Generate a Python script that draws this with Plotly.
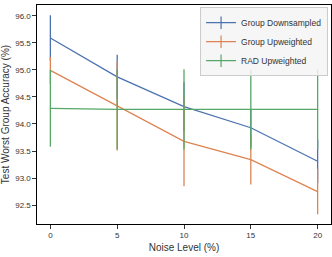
import plotly.graph_objects as go

noise = [0, 5, 10, 15, 20]
names = ["Group Downsampled", "Group Upweighted", "RAD Upweighted"]
colors = ["#4c72b0", "#dd8452", "#55a868"]
means = [
    [95.59, 94.87, 94.32, 93.93, 93.31],
    [94.99, 94.33, 93.68, 93.34, 92.75],
    [94.29, 94.27, 94.27, 94.27, 94.27],
]
errs = [
    [0.42, 0.41, 0.45, 0.35, 0.40],
    [0.25, 0.82, 0.83, 0.46, 0.42],
    [0.71, 0.74, 0.74, 0.74, 0.74],
]
yticks = [92.5, 93.0, 93.5, 94.0, 94.5, 95.0, 95.5, 96.0]

fig = go.Figure()
for n, c, m, e in zip(names, colors, means, errs):
    fig.add_trace(go.Scatter(
        x=noise, y=m, mode="lines", line=dict(color=c, width=1.3),
        error_y=dict(type="data", array=e, color=c, thickness=1.3, width=0),
        showlegend=False))
for n, c in zip(names, colors):
    fig.add_trace(go.Scatter(
        x=[None], y=[None], mode="lines+markers", name=n,
        line=dict(color=c, width=1.2),
        marker=dict(symbol="line-ns-open", size=9, color=c, line=dict(color=c, width=1.2))))

FF = "Liberation Sans, Arial, sans-serif"
fig.update_layout(
    width=332, height=257,
    margin=dict(l=37, r=1, t=5, b=33),
    paper_bgcolor="white", plot_bgcolor="white",
    font=dict(family=FF, size=8, color="#333333"),
    legend=dict(x=0.99, y=0.99, xanchor="right", yanchor="top",
                bgcolor="rgba(245,245,245,0.85)", bordercolor="#cccccc", borderwidth=1,
                font=dict(family=FF, size=8.5, color="#333333"),
                itemwidth=30, tracegroupgap=0),
    xaxis=dict(range=[-1, 21], tickvals=noise, ticktext=[str(v) for v in noise],
               showgrid=False, zeroline=False, showline=True, linecolor="black", linewidth=1.2,
               mirror=True, ticks="outside", ticklen=3.5, tickcolor="#333333",
               title=dict(text="Noise Level (%)", standoff=4)),
    yaxis=dict(range=[92.15, 96.2], tickvals=yticks, ticktext=[f"{v:.1f}" for v in yticks],
               showgrid=False, zeroline=False, showline=True, linecolor="black", linewidth=1.2,
               mirror=True, ticks="outside", ticklen=3.5, tickcolor="#333333",
               title=dict(text="Test Worst Group Accuracy (%)", standoff=6)),
)
fig.write_html("out.html", config={"displayModeBar": False},
               post_script="document.body.style.margin='0';document.body.style.padding='0';document.body.style.overflow='hidden';")
